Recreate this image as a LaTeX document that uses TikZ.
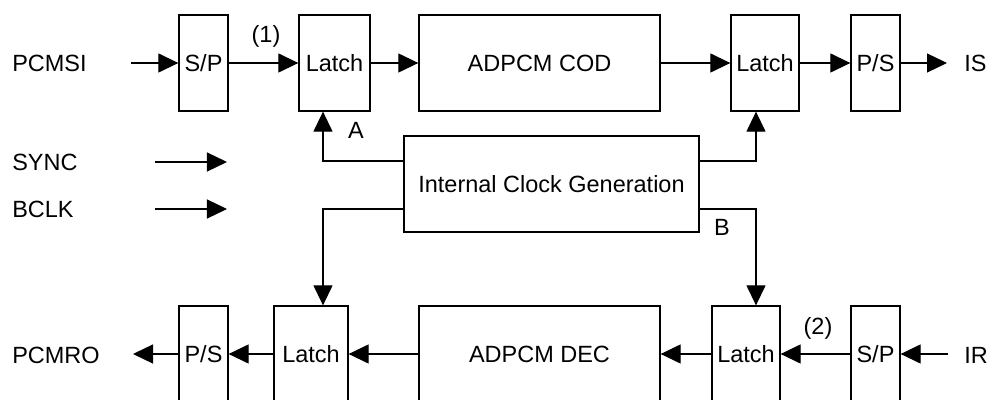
\documentclass[tikz,border=0pt]{standalone}
\usepackage{fontspec}
\setmainfont{Liberation Sans}
\usetikzlibrary{arrows.meta, positioning}

\begin{document}
\begin{tikzpicture}[
  x=0.025cm, y=-0.025cm,
  font=\fontsize{16.7}{20}\selectfont,
  block/.style={draw, line width=0.9pt, minimum height=2.4cm, inner sep=0pt, align=center},
  narrow/.style={block, minimum width=1.225cm},
  sig/.style={inner sep=0pt, anchor=west},
  arrow/.style={line width=0.9pt, -{Triangle[length=5mm, width=4.75mm]}}
  ]

  \useasboundingbox (0,0) rectangle (995,400);

  % Encoder path (top row)
  \node[narrow] (sp1) at (203.5,63) {S/P};
  \node[block, minimum width=1.775cm] (latch1) at (334.5,63) {Latch};
  \node[block, minimum width=6.025cm] (cod) at (539.5,63) {ADPCM COD};
  \node[block, minimum width=1.7cm] (latch2) at (765,63) {Latch};
  \node[narrow] (ps1) at (875.5,63) {P/S};

  % Clock block
  \node[block, minimum width=7.375cm] (clk) at (551.5,184) {Internal Clock Generation};

  % Decoder path (bottom row)
  \node[narrow] (ps2) at (203.5,354) {P/S};
  \node[block, minimum width=1.85cm] (latch3) at (311,354) {Latch};
  \node[block, minimum width=6.025cm] (dec) at (539.5,354) {ADPCM DEC};
  \node[block, minimum width=1.7cm] (latch4) at (746,354) {Latch};
  \node[narrow] (sp2) at (875.5,354) {S/P};

  % Signal names
  \node[sig] (pcmsi) at (12,63) {PCMSI};
  \node[sig] (sync) at (12,162) {SYNC};
  \node[sig] (bclk) at (12,209) {BCLK};
  \node[sig] (pcmro) at (12,355) {PCMRO};
  \node[sig] (is) at (964,63) {IS};
  \node[sig] (ir) at (964,355) {IR};

  % Point labels
  \node (one) at (266,36) {(1)};
  \node (two) at (818,328) {(2)};
  \node (a) at (356,130) {A};
  \node (b) at (722,227) {B};

  % Free line ends
  \coordinate (pcmsiin) at (131,63);
  \coordinate (isout) at (947,63);
  \coordinate (syncin) at (155,162);
  \coordinate (syncend) at (227,162);
  \coordinate (bclkin) at (155,209);
  \coordinate (bclkend) at (227,209);
  \coordinate (irin) at (948,354);
  \coordinate (pcmroout) at (133,354);

  % Top row connections
  \draw[arrow] (pcmsiin) -- (sp1);
  \draw[arrow] (sp1) -- (latch1);
  \draw[arrow] (latch1) -- (cod);
  \draw[arrow] (cod) -- (latch2);
  \draw[arrow] (latch2) -- (ps1);
  \draw[arrow] (ps1) -- (isout);

  \draw[arrow] (syncin) -- (syncend);
  \draw[arrow] (bclkin) -- (bclkend);

  % Clock distribution
  \draw[arrow] (clk.west |- 0,161) -| (latch1.south -| 323,0);
  \draw[arrow] (clk.east |- 0,161) -| (latch2.south -| 756,0);
  \draw[arrow] (clk.west |- 0,209) -| (latch3.north -| 323,0);
  \draw[arrow] (clk.east |- 0,209) -| (latch4.north -| 756,0);

  % Bottom row connections
  \draw[arrow] (irin) -- (sp2);
  \draw[arrow] (sp2) -- (latch4);
  \draw[arrow] (latch4) -- (dec);
  \draw[arrow] (dec) -- (latch3);
  \draw[arrow] (latch3) -- (ps2);
  \draw[arrow] (ps2) -- (pcmroout);

\end{tikzpicture}
\end{document}
